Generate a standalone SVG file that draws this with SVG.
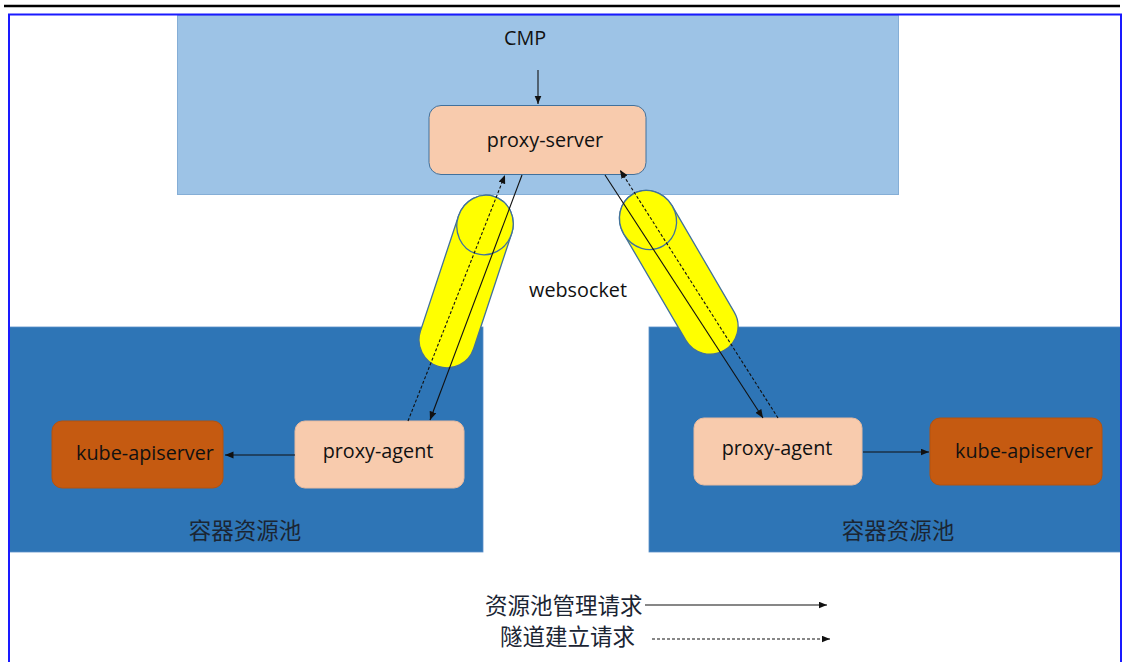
<svg xmlns="http://www.w3.org/2000/svg" width="1123" height="662" viewBox="0 0 1123 662">
  <style>
    .lbl { font-family: "Open Sans", "Liberation Sans", sans-serif; font-size: 19.8px; fill: #111; text-anchor: middle; }
    .cjk { font-family: "Noto Sans CJK SC", sans-serif; font-size: 22.5px; fill: #1b2533; }
    .pool { fill: #2e75b6; stroke: #5a8fc8; stroke-width: 0.8; }
    .proxy { fill: #f8cbad; stroke: #e8bba0; stroke-width: 1; }
    .kube { fill: #c55a11; stroke: #b5520f; stroke-width: 1; }
    .tube { fill: #ffff00; stroke: #41719c; stroke-width: 1.3; }
    .solid { stroke: #111; stroke-width: 1.1; fill: none; }
    .dash { stroke: #111; stroke-width: 1.1; fill: none; stroke-dasharray: 3 2; }
  </style>
  <defs>
    <marker id="tip" markerUnits="userSpaceOnUse" markerWidth="9" markerHeight="8" refX="8.5" refY="3.5" orient="auto">
      <path d="M0,0 L8.5,3.5 L0,7 Z" fill="#111"/>
    </marker>
  </defs>

  <rect width="1123" height="662" fill="#ffffff"/>

  <!-- page rule -->
  <line x1="4" y1="6" x2="1120" y2="6" stroke="#000" stroke-width="2.5"/>

  <!-- CMP area -->
  <g id="cmp">
    <rect x="177.5" y="15.5" width="721" height="179" fill="#9dc3e6" stroke="#85aed6" stroke-width="1"/>
    <text class="lbl" x="525" y="45">CMP</text>
  </g>

  <!-- container resource pools -->
  <g id="pool-left">
    <rect class="pool" x="9" y="327" width="474" height="225"/>
    <text class="cjk" x="245" y="539" text-anchor="middle">容器资源池</text>
  </g>
  <g id="pool-right">
    <rect class="pool" x="649" y="327" width="472" height="225"/>
    <text class="cjk" x="898" y="539" text-anchor="middle">容器资源池</text>
  </g>

  <!-- websocket tunnels: cylinder body with the open end drawn as an ellipse -->
  <g id="tunnel-left" transform="translate(485,225) rotate(18.3)">
    <path class="tube" d="M-28,0 L-28,121 A28,28 0 0 0 28,121 L28,0 A28,30 0 0 0 -28,0 Z"/>
    <ellipse class="tube" cx="0" cy="0" rx="28" ry="30"/>
  </g>
  <g id="tunnel-right" transform="translate(648,220) rotate(-30.3)">
    <path class="tube" d="M-28,0 L-28,123 A28,28 0 0 0 28,123 L28,0 A28,30 0 0 0 -28,0 Z"/>
    <ellipse class="tube" cx="0" cy="0" rx="28" ry="30"/>
  </g>
  <g id="websocket-label">
    <text class="lbl" x="578" y="297">websocket</text>
  </g>

  <!-- nodes -->
  <g id="proxy-server">
    <rect x="429" y="105.5" width="217" height="69" rx="12" fill="#f8cbad" stroke="#41719c" stroke-width="1"/>
    <text class="lbl" x="545" y="147">proxy-server</text>
  </g>
  <g id="proxy-agent-left">
    <rect class="proxy" x="295" y="421" width="169" height="67" rx="10"/>
    <text class="lbl" x="378" y="458">proxy-agent</text>
  </g>
  <g id="kube-apiserver-left">
    <rect class="kube" x="52" y="421" width="171" height="67" rx="10"/>
    <text class="lbl" x="145" y="460">kube-apiserver</text>
  </g>
  <g id="proxy-agent-right">
    <rect class="proxy" x="694" y="418" width="168" height="67" rx="10"/>
    <text class="lbl" x="777" y="454.5">proxy-agent</text>
  </g>
  <g id="kube-apiserver-right">
    <rect class="kube" x="930" y="418" width="172" height="67" rx="10"/>
    <text class="lbl" x="1024" y="458">kube-apiserver</text>
  </g>

  <!-- connectors -->
  <g id="connectors">
    <line class="solid" x1="538" y1="70" x2="538" y2="104" marker-end="url(#tip)"/>
    <line class="solid" x1="522" y1="175" x2="430" y2="420" marker-end="url(#tip)"/>
    <line class="dash" x1="408" y1="421" x2="505" y2="175" marker-end="url(#tip)"/>
    <line class="solid" x1="605" y1="175" x2="763" y2="418" marker-end="url(#tip)"/>
    <line class="dash" x1="778" y1="418" x2="620" y2="170" marker-end="url(#tip)"/>
    <line class="solid" x1="295" y1="455" x2="225" y2="455" marker-end="url(#tip)"/>
    <line class="solid" x1="863" y1="452" x2="929" y2="452" marker-end="url(#tip)"/>
  </g>

  <!-- legend -->
  <g id="legend">
    <text class="cjk" x="485" y="614">资源池管理请求</text>
    <line class="solid" x1="645" y1="605" x2="827" y2="605" marker-end="url(#tip)"/>
    <text class="cjk" x="500" y="645">隧道建立请求</text>
    <line class="dash" x1="652" y1="639" x2="830" y2="639" marker-end="url(#tip)"/>
  </g>

  <!-- outer frame -->
  <rect x="9" y="14.5" width="1112" height="700" fill="none" stroke="#1a1aff" stroke-width="2"/>
</svg>
